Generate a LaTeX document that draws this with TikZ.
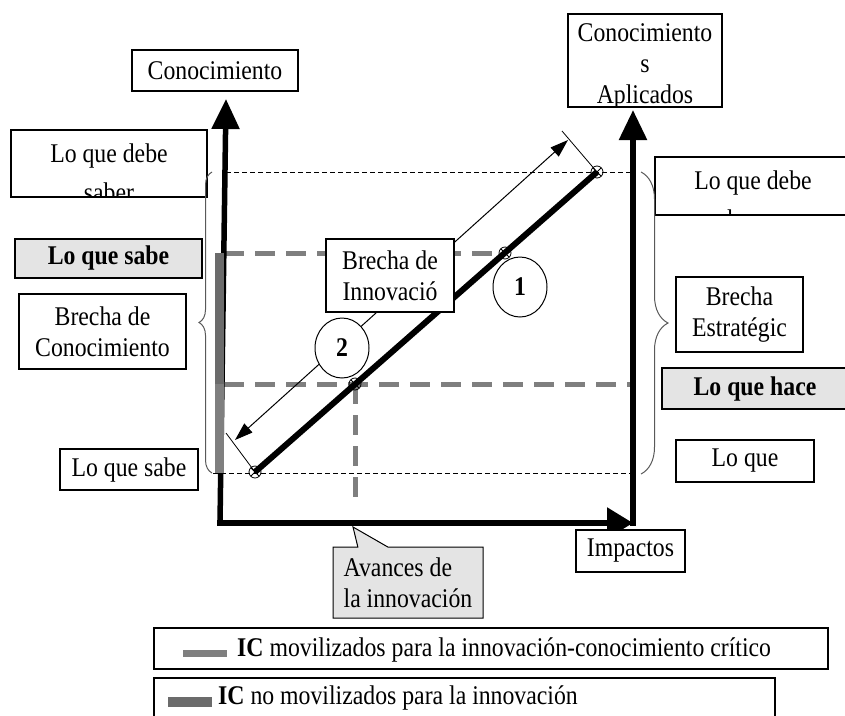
\documentclass[tikz,border=0pt]{standalone}
\usepackage{fontspec}
\setmainfont{Liberation Serif}[FakeStretch=0.88]
\usetikzlibrary{arrows.meta,shapes.geometric,shapes.callouts,decorations.pathreplacing}

\definecolor{boxgrey}{HTML}{E4E4E4}
\definecolor{dashgrey}{HTML}{7F7F7F}
\definecolor{bargrey}{HTML}{6B6B6B}
\newcommand{\figfont}{\fontsize{27}{31}\selectfont}

\tikzset{
  box/.style={draw, line width=1.8pt, fill=white, inner sep=0pt, align=center},
  greybox/.style={box, fill=boxgrey, font=\figfont\bfseries},
  txt/.style={inner sep=0pt, align=center},
  gdash/.style={dashgrey, line width=5pt, dash pattern=on 20pt off 11pt},
  kdash/.style={black, line width=1pt, dash pattern=on 5pt off 3pt},
  axis/.style={line width=5.5pt, line cap=rect, -{Triangle[length=30pt,width=27pt]}},
  dimline/.style={line width=1pt, {Triangle[length=18pt,width=12pt]}-{Triangle[length=18pt,width=12pt]}},
  xdot/.style={circle, draw, line width=0.8pt, minimum size=12pt, inner sep=0pt,
    path picture={\draw[line width=0.8pt] (path picture bounding box.north west) -- (path picture bounding box.south east)
      (path picture bounding box.north east) -- (path picture bounding box.south west);}},
  numc/.style={ellipse, draw, fill=white, line width=1pt, minimum width=54pt, minimum height=60pt, inner sep=0pt, font=\figfont\bfseries},
  brc/.style={decorate, decoration={brace, amplitude=#1}, draw=black!65, line width=1pt},
}

\begin{document}
\begin{tikzpicture}[x=1pt, y=-1pt, font=\figfont]
    \useasboundingbox (0,0) rectangle (845,715);

    % points of the knowledge line
    \coordinate (O) at (220,523);
    \coordinate (A) at (255,472);
    \coordinate (B) at (597,172);
    \coordinate (P1) at (505,253);
    \coordinate (P2) at (355,384);

    % guide lines
    \draw[kdash] (226,172) -- (633,172);
    \draw[kdash] (213,473) -- (633,473);
    \draw[gdash] (224,253) -- (P1);
    \draw[gdash] (224,384) -- (633,384);
    \draw[gdash] (P2) -- (355,508);

    % axes
    \draw[axis] (O) -- (226,99);
    \draw[line width=5.5pt, line cap=rect, -{Triangle[length=26pt,width=30pt]}] (O) -- (633,523);
    \draw[axis] (633,523) -- (633,110);
    \draw[bargrey, line width=9pt] (219,253) -- (219,384);
    \draw[dashgrey, line width=9pt] (219,384) -- (219,473);

    % knowledge line with its gap arrow
    \draw[line width=6pt] (A) -- (B);
    \foreach \p in {A,B,P1,P2} \node[xdot] (m\p) at (\p) {};
    \coordinate (dimA) at (235,440);
    \coordinate (dimB) at (568,140);
    \draw[line width=0.8pt] (A) -- (226,433);
    \draw[line width=0.8pt] (B) -- (562,131);
    \draw[dimline] (dimA) -- (dimB);

    \node[box, minimum width=128pt, minimum height=73pt] (innov) at (390,275.5) {Brecha de\\Innovació};
    \node[numc] (uno) at (520,287) {1};
    \node[numc] (dos) at (342,348) {2};

    % axis titles
    \node[box, minimum width=166pt, minimum height=41pt] (conoc) at (215,70.5) {Conocimiento};
    \node[box, minimum width=154pt, minimum height=93pt] (aplic) at (645,60.5) {};
    \begin{scope}
        \clip (aplic.south west) rectangle (aplic.north east);
        \node[txt] (aplict) at (645,66) {Conocimiento\\s\\Aplicados};
    \end{scope}
    \node[box, minimum width=109pt, minimum height=42pt] (impact) at (630.5,551) {Impactos};
    \coordinate (tipAv) at (353,527);
    \node[rectangle callout, callout absolute pointer={(tipAv)}, callout pointer width=30pt,
          draw, line width=1pt, fill=boxgrey, inner sep=0pt, align=left,
          minimum width=150pt, minimum height=71pt] (avances) at (408,582.5) {Avances de\\la innovación};

    % left side
    \node[box, minimum width=196pt, minimum height=67pt] (debeL) at (109,163.5) {};
    \begin{scope}
        \clip (debeL.south west) rectangle (debeL.north east);
        \node[txt] (debeLt) at (109,173) {Lo que debe\\[8pt]saber};
    \end{scope}
    \node[greybox, minimum width=187pt, minimum height=39pt] (sabeG) at (108.5,258.5) {Lo que sabe};
    \node[box, minimum width=167pt, minimum height=75pt] (brechaC) at (102.5,331.5) {Brecha de\\Conocimiento};
    \node[box, minimum width=138pt, minimum height=41pt] (sabe) at (129,469.5) {Lo que sabe};
    \draw[brc=13pt] (212,473) -- (212,172);

    % right side
    \node[box, minimum width=196pt, minimum height=58pt] (debeR) at (753,186) {};
    \begin{scope}
        \clip (debeR.south west) rectangle (debeR.north east);
        \node[txt] (debeRt) at (753,199.5) {Lo que debe\\[8pt]hacer};
    \end{scope}
    \node[box, minimum width=127pt, minimum height=75pt] (brechaE) at (739.5,314.5) {Brecha\\Estratégic};
    \node[greybox, minimum width=186pt, minimum height=41pt] (haceG) at (755,388.5) {Lo que hace};
    \node[box, minimum width=138pt, minimum height=42pt] (hace) at (745,461) {Lo que};
    \draw[brc=27pt] (641,172) -- (641,474);

    % legend
    \node[box, minimum width=674pt, minimum height=41pt] (legA) at (491,648.5) {};
    \draw[dashgrey, line width=7pt] (183,653) -- (227,653);
    \node[txt, anchor=west] (legAt) at (237,650) {\textbf{IC} movilizados para la innovación-conocimiento crítico};
    \node[box, minimum width=621pt, minimum height=62pt] (legB) at (464.5,709) {};
    \draw[bargrey, line width=10pt] (168,702) -- (212,702);
    \node[txt, anchor=west] (legBt) at (218,698) {\textbf{IC} no movilizados para la innovación};
\end{tikzpicture}
\end{document}
